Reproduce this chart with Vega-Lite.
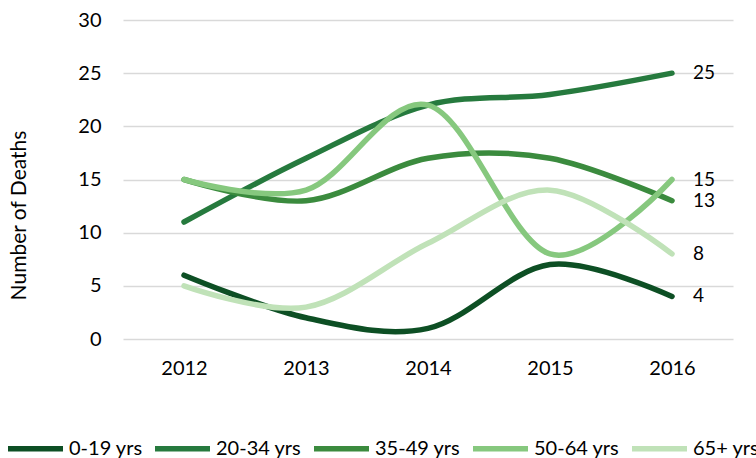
{
  "$schema": "https://vega.github.io/schema/vega-lite/v6.json",
  "width": 610,
  "height": 319,
  "autosize": {"type": "none"},
  "padding": {"left": 123, "top": 20, "right": 23, "bottom": 119},
  "background": "white",
  "config": {
    "view": {"stroke": null},
    "font": "Lato",
    "text": {"font": "Lato"}
  },
  "data": {
    "values": [
      {"year": "2012", "group": "0-19 yrs", "deaths": 6},
      {"year": "2013", "group": "0-19 yrs", "deaths": 2},
      {"year": "2014", "group": "0-19 yrs", "deaths": 1},
      {"year": "2015", "group": "0-19 yrs", "deaths": 7},
      {"year": "2016", "group": "0-19 yrs", "deaths": 4},
      {"year": "2012", "group": "20-34 yrs", "deaths": 11},
      {"year": "2013", "group": "20-34 yrs", "deaths": 17},
      {"year": "2014", "group": "20-34 yrs", "deaths": 22},
      {"year": "2015", "group": "20-34 yrs", "deaths": 23},
      {"year": "2016", "group": "20-34 yrs", "deaths": 25},
      {"year": "2012", "group": "35-49 yrs", "deaths": 15},
      {"year": "2013", "group": "35-49 yrs", "deaths": 13},
      {"year": "2014", "group": "35-49 yrs", "deaths": 17},
      {"year": "2015", "group": "35-49 yrs", "deaths": 17},
      {"year": "2016", "group": "35-49 yrs", "deaths": 13},
      {"year": "2012", "group": "50-64 yrs", "deaths": 15},
      {"year": "2013", "group": "50-64 yrs", "deaths": 14},
      {"year": "2014", "group": "50-64 yrs", "deaths": 22},
      {"year": "2015", "group": "50-64 yrs", "deaths": 8},
      {"year": "2016", "group": "50-64 yrs", "deaths": 15},
      {"year": "2012", "group": "65+ yrs", "deaths": 5},
      {"year": "2013", "group": "65+ yrs", "deaths": 3},
      {"year": "2014", "group": "65+ yrs", "deaths": 9},
      {"year": "2015", "group": "65+ yrs", "deaths": 14},
      {"year": "2016", "group": "65+ yrs", "deaths": 8}
    ]
  },
  "encoding": {
    "x": {
      "field": "year",
      "type": "ordinal",
      "scale": {"type": "point", "padding": 0.5},
      "axis": {
        "title": null,
        "labelAngle": 0,
        "domain": false,
        "ticks": false,
        "labelPadding": 19,
        "labelFontSize": 20,
        "labelColor": "#000000",
        "labelFont": "Lato"
      }
    },
    "y": {
      "field": "deaths",
      "type": "quantitative",
      "scale": {"domain": [0, 30], "nice": false},
      "axis": {
        "title": "Number of Deaths",
        "titleFontSize": 21,
        "titleFontWeight": "normal",
        "titleColor": "#000000",
        "titleFont": "Lato",
        "titleX": -104,
        "titleY": 195,
        "titleBaseline": "middle",
        "values": [0, 5, 10, 15, 20, 25, 30],
        "domain": false,
        "ticks": false,
        "grid": true,
        "gridColor": "#d9d9d9",
        "gridWidth": 1.5,
        "labelPadding": 22,
        "labelFontSize": 20,
        "labelColor": "#000000",
        "labelFont": "Lato"
      }
    }
  },
  "layer": [
    {
      "mark": {"type": "line", "interpolate": "cardinal", "strokeWidth": 5.5, "strokeCap": "round", "strokeJoin": "round"},
      "encoding": {
        "color": {
          "field": "group",
          "type": "nominal",
          "scale": {
            "domain": ["0-19 yrs", "20-34 yrs", "35-49 yrs", "50-64 yrs", "65+ yrs"],
            "range": ["#0d4f24", "#267a3e", "#3b8b3e", "#86c87e", "#c0e2b8"]
          },
          "legend": {
            "title": null,
            "orient": "none",
            "direction": "horizontal",
            "columns": 5,
            "legendX": -118,
            "legendY": 398,
            "symbolType": "stroke",
            "symbolSize": 3025,
            "symbolStrokeWidth": 5.5,
            "labelFontSize": 20,
            "labelFont": "Lato",
            "labelColor": "#000000",
            "labelOffset": 3,
            "columnPadding": 1,
            "labelLimit": 300
          }
        }
      }
    },
    {
      "transform": [{"filter": "datum.year == '2016'"}],
      "mark": {"type": "text", "align": "left", "baseline": "middle", "dx": 21, "fontSize": 19, "font": "Lato", "color": "#000000"},
      "encoding": {
        "text": {"field": "deaths", "type": "quantitative"}
      }
    }
  ]
}
